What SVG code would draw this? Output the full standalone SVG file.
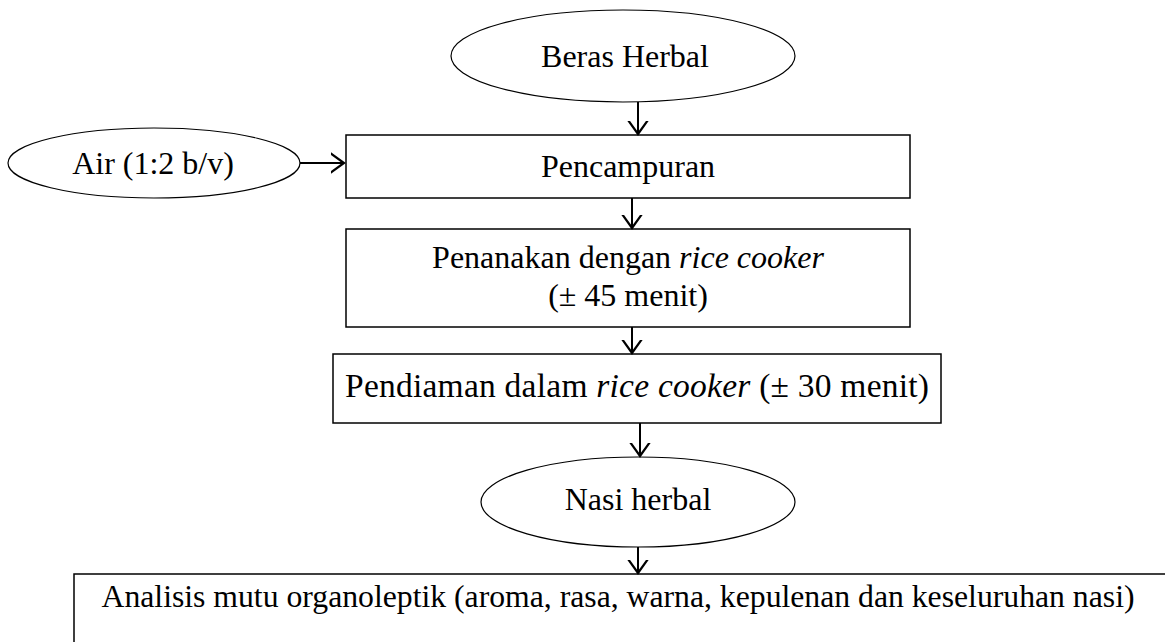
<svg xmlns="http://www.w3.org/2000/svg" width="1165" height="642" viewBox="0 0 1165 642">
<defs>
<style>
.shape{fill:#fff;stroke:#000;stroke-width:1.5}
.ell{fill:#fff;stroke:#000;stroke-width:1.2}
.t{font-family:"Liberation Serif","Times New Roman",serif;font-size:32px;fill:#000;text-anchor:middle}
.conn{stroke:#000;stroke-width:2;fill:none;marker-end:url(#arr)}
</style>
<marker id="arr" markerUnits="userSpaceOnUse" markerWidth="26" markerHeight="26" viewBox="-13 -13 26 26" refX="0" refY="0" orient="auto">
<path d="M-14,-10 L0,0 L-14,10" fill="none" stroke="#000" stroke-width="2.2"/>
</marker>
</defs>
<rect width="1165" height="642" fill="#fff"/>
<g id="beras">
<ellipse class="ell" cx="623" cy="56" rx="172" ry="46"/>
<text class="t" x="625" y="67">Beras Herbal</text>
</g>
<g id="air">
<ellipse class="ell" cx="154" cy="163" rx="146" ry="35"/>
<text class="t" x="153" y="174">Air (1:2 b/v)</text>
</g>
<g id="pencampuran">
<rect class="shape" x="346" y="135" width="564" height="63"/>
<text class="t" x="628" y="177">Pencampuran</text>
</g>
<g id="penanakan">
<rect class="shape" x="346" y="229" width="564" height="98"/>
<text class="t" x="628" y="268">Penanakan dengan <tspan font-style="italic">rice cooker</tspan></text>
<text class="t" x="628" y="306">(± 45 menit)</text>
</g>
<g id="pendiaman">
<rect class="shape" x="333" y="354" width="608" height="69"/>
<text class="t" x="637" y="397" style="font-size:33.5px" textLength="584" lengthAdjust="spacing">Pendiaman dalam <tspan font-style="italic">rice cooker</tspan> (± 30 menit)</text>
</g>
<g id="nasi">
<ellipse class="ell" cx="638" cy="502" rx="157" ry="45"/>
<text class="t" x="638" y="510">Nasi herbal</text>
</g>
<g id="analisis">
<rect class="shape" x="74" y="574" width="1100" height="90"/>
<text class="t" x="618" y="607" textLength="1033" lengthAdjust="spacingAndGlyphs">Analisis mutu organoleptik (aroma, rasa, warna, kepulenan dan keseluruhan nasi)</text>
</g>
<g id="connectors">
<line class="conn" x1="638" y1="102" x2="638" y2="134"/>
<line class="conn" x1="300" y1="163" x2="344" y2="163"/>
<line class="conn" x1="632" y1="198" x2="632" y2="228"/>
<line class="conn" x1="632" y1="327" x2="632" y2="353"/>
<line class="conn" x1="640" y1="423" x2="640" y2="456"/>
<line class="conn" x1="638" y1="547" x2="638" y2="573"/>
</g>
</svg>
